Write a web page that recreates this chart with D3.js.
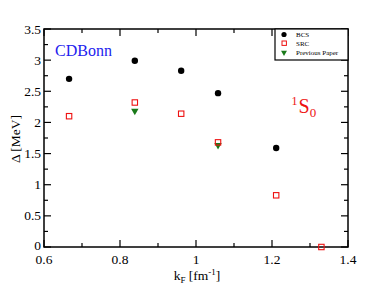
<!DOCTYPE html>
<html>
<head>
<meta charset="utf-8">
<script src="https://cdn.jsdelivr.net/npm/d3@7"></script>
<style>
  body { margin: 0; background: #fff; }
  text { font-family: "Liberation Serif", "DejaVu Serif", serif; }
</style>
</head>
<body>
<div id="container"></div>
<script>
let bcsK = [0.666, 0.839, 0.961, 1.058, 1.211];
let bcsGap = [2.70, 2.99, 2.83, 2.47, 1.59];
let srcK = [0.666, 0.839, 0.961, 1.058, 1.211, 1.330];
let srcGap = [2.10, 2.32, 2.14, 1.68, 0.83, 0.0];
let prevK = [0.839, 1.058];
let prevGap = [2.20, 1.65];
let xTicks = [0.6, 0.8, 1.0, 1.2, 1.4];
let yTicks = [0, 0.5, 1, 1.5, 2, 2.5, 3, 3.5];

let w = 376;
let h = 291;
let pLeft = 44, pRight = 348, pTop = 29, pBottom = 247;

let viz = d3.select("#container")
  .append("svg")
    .attr("width", w)
    .attr("height", h)
;

let xScale = d3.scaleLinear().domain([0.6, 1.4]).range([pLeft, pRight]);
let yScale = d3.scaleLinear().domain([0, 3.5]).range([pBottom, pTop]);

let xMinor = d3.range(0.7, 1.4, 0.2);
let yMinor = d3.range(0.25, 3.5, 0.5);

// ticks on all four sides, pointing in
function tickLines(g, vals, len, horizontal, pos, dir){
  g.selectAll(null).data(vals).enter().append("line")
    .attr("x1", d => horizontal ? xScale(d) : pos)
    .attr("x2", d => horizontal ? xScale(d) : pos + dir*len)
    .attr("y1", d => horizontal ? pos : yScale(d))
    .attr("y2", d => horizontal ? pos + dir*len : yScale(d))
    .attr("stroke", "black")
    .attr("stroke-width", 1.2);
}
let ticks = viz.append("g");
tickLines(ticks, xTicks, 7, true, pBottom, -1);
tickLines(ticks, xMinor, 4, true, pBottom, -1);
tickLines(ticks, xTicks, 7, true, pTop, 1);
tickLines(ticks, xMinor, 4, true, pTop, 1);
tickLines(ticks, yTicks, 7, false, pLeft, 1);
tickLines(ticks, yMinor, 4, false, pLeft, 1);
tickLines(ticks, yTicks, 7, false, pRight, -1);
tickLines(ticks, yMinor, 4, false, pRight, -1);

viz.append("rect")
  .attr("x", pLeft).attr("y", pTop)
  .attr("width", pRight - pLeft).attr("height", pBottom - pTop)
  .attr("fill", "none").attr("stroke", "black").attr("stroke-width", 1.5);

// tick labels
viz.append("g").selectAll("text").data(xTicks).enter().append("text")
  .attr("x", d => xScale(d))
  .attr("y", pBottom + 16.5)
  .attr("text-anchor", "middle")
  .attr("font-size", "13.5px")
  .text(d => d3.format("")(+d.toFixed(1)));

viz.append("g").selectAll("text").data(yTicks).enter().append("text")
  .attr("x", pLeft - 3)
  .attr("y", d => yScale(d) + (d == 0 ? 2.5 : 4.5))
  .attr("text-anchor", "end")
  .attr("font-size", "13.5px")
  .text(d => d);

// axis titles
let xt = viz.append("text")
  .attr("x", 197).attr("y", 280)
  .attr("text-anchor", "middle")
  .attr("font-size", "13.5px");
xt.append("tspan").text("k");
xt.append("tspan").attr("font-size", "9px").attr("dy", 3).text("F");
xt.append("tspan").attr("dy", -3).text(" [fm");
xt.append("tspan").attr("font-size", "9px").attr("dy", -5).text("-1");
xt.append("tspan").attr("dy", 5).text("]");

viz.append("text")
  .attr("transform", "translate(20," + ((pTop + pBottom) / 2 + 1) + ") rotate(-90)")
  .attr("text-anchor", "middle")
  .attr("font-size", "13.5px")
  .text("\u0394 [MeV]");

// data
let bcs = bcsK.map((k, i) => ({k: k, v: bcsGap[i]}));
let src = srcK.map((k, i) => ({k: k, v: srcGap[i]}));
let prev = prevK.map((k, i) => ({k: k, v: prevGap[i]}));

let tri = d3.symbol().type(d3.symbolTriangle).size(24);

viz.append("g").selectAll("path").data(prev).enter().append("path")
  .attr("d", tri)
  .attr("transform", d => "translate(" + xScale(d.k) + "," + (yScale(d.v) + 1) + ") rotate(180)")
  .attr("fill", "#1a7a1a");

viz.append("g").selectAll("rect").data(src).enter().append("rect")
  .attr("x", d => xScale(d.k) - 2.7)
  .attr("y", d => yScale(d.v) - 2.7)
  .attr("width", 5.4).attr("height", 5.4)
  .attr("fill", "none").attr("stroke", "#ee1111").attr("stroke-width", 1.1);

viz.append("g").selectAll("circle").data(bcs).enter().append("circle")
  .attr("cx", d => xScale(d.k))
  .attr("cy", d => yScale(d.v))
  .attr("r", 3.2)
  .attr("fill", "black");

// legend
let lg = viz.append("g");
lg.append("rect")
  .attr("x", 275).attr("y", pTop)
  .attr("width", pRight - 275).attr("height", 31)
  .attr("fill", "white").attr("stroke", "black").attr("stroke-width", 1.2);
lg.append("circle").attr("cx", 284).attr("cy", 34.5).attr("r", 2.6).attr("fill", "black");
lg.append("rect").attr("x", 282).attr("y", 41).attr("width", 4.4).attr("height", 4.4)
  .attr("fill", "none").attr("stroke", "#ee1111").attr("stroke-width", 1);
lg.append("path").attr("d", tri).attr("transform", "translate(284,52.5) rotate(180) scale(0.8)")
  .attr("fill", "#1a7a1a");
let legendNames = ["BCS", "SRC", "Previous Paper"];
lg.selectAll("text.lg").data(legendNames).enter().append("text")
  .attr("x", 296)
  .attr("y", (d, i) => 36.8 + i * 9)
  .attr("font-size", "7px")
  .text(d => d);

// annotations
viz.append("text")
  .attr("x", 55).attr("y", 55.5)
  .attr("font-size", "16px")
  .attr("fill", "#2222ee")
  .text("CDBonn");

let s0 = viz.append("text")
  .attr("x", 291.5).attr("y", 113)
  .attr("font-size", "20px")
  .attr("fill", "#ee1111");
s0.append("tspan").attr("font-size", "12px").attr("dy", -8).text("1");
s0.append("tspan").attr("dx", 1).attr("dy", 8).text("S");
s0.append("tspan").attr("font-size", "13px").attr("dy", 4).text("0");
</script>
</body>
</html>
